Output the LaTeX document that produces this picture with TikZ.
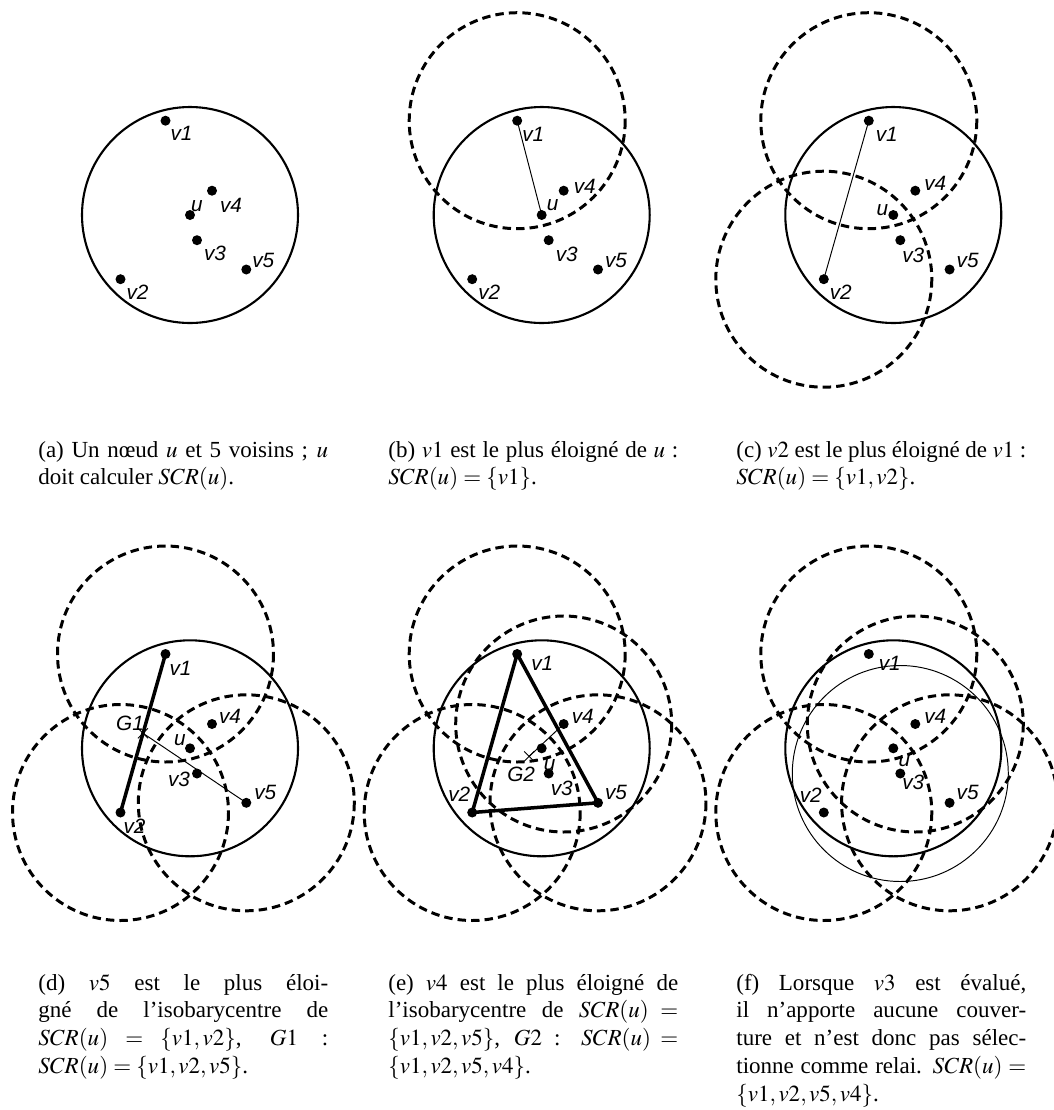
\documentclass[tikz,border=0pt]{standalone}
\usepackage{mathptmx}
\usepackage{fontspec}
\setmainfont{Liberation Serif}
\newfontfamily\lblfont{Liberation Sans}
\usetikzlibrary{calc}

\tikzset{
  reach/.style={line width=1.2pt},
  cover/.style={line width=1.7pt, dash pattern=on 4.8pt off 2.9pt},
  link/.style={line width=0.55pt},
  chosen/.style={line width=2pt},
  lbl/.style={inner sep=0pt, font=\lblfont\itshape\fontsize{11.8pt}{13pt}\selectfont},
  capt/.style={anchor=base west, inner sep=0pt, text width=165pt, align=justify,
    font=\fontsize{13.1pt}{15.8pt}\selectfont}
}

\begin{document}
\begin{tikzpicture}[x=0.02cm, y=-0.02cm]
  \useasboundingbox (0,0) rectangle (1054,1110);

  % the same node u and its five neighbours in every panel
  \foreach \p/\ux/\uy in {a/190/215, b/541.7/215, c/893.3/215,
                          d/190/748.3, e/541.7/748.3, f/893.3/748.3}{
    \coordinate (\p-u) at (\ux,\uy);
    \coordinate (\p-v1) at ([shift={(-24.5,-94.3)}]\p-u);
    \coordinate (\p-v2) at ([shift={(-69.5,64.2)}]\p-u);
    \coordinate (\p-v3) at ([shift={(7,25.2)}]\p-u);
    \coordinate (\p-v4) at ([shift={(22,-24.3)}]\p-u);
    \coordinate (\p-v5) at ([shift={(56.3,54.5)}]\p-u);
    \draw[reach] (\p-u) circle (108);
  }

  % (b)
  \draw[cover] (b-v1) circle (108);
  \draw[link] (b-u) -- (b-v1);

  % (c)
  \draw[cover] (c-v1) circle (108) (c-v2) circle (108);
  \draw[link] (c-v1) -- (c-v2);

  % (d)
  \coordinate (d-G1) at ($(d-v1)!0.5!(d-v2)$);
  \draw[cover] (d-v1) circle (108) (d-v2) circle (108) (d-v5) circle (108);
  \draw[chosen] (d-v1) -- (d-v2);
  \draw[link] (d-G1) -- (d-v5);
  \draw[link] (d-G1) +(-5,-5) -- +(5,5) +(-5,5) -- +(5,-5);
  \node[lbl] (d-G1-l) at ([shift={(-13,-10)}]d-G1) {G1};

  % (e)
  \coordinate (e-G2) at (barycentric cs:e-v1=1,e-v2=1,e-v5=1);
  \draw[cover] (e-v1) circle (108) (e-v2) circle (108) (e-v5) circle (108)
    (e-v4) circle (108);
  \draw[chosen] (e-v1) -- (e-v2) -- (e-v5) -- cycle;
  \draw[link] (e-G2) -- (e-v4);
  \draw[link] (e-G2) +(-5,-5) -- +(5,5) +(-5,5) -- +(5,-5);
  \node[lbl] (e-G2-l) at ([shift={(-8,18)}]e-G2) {G2};

  % (f)
  \draw[cover] (f-v1) circle (108) (f-v2) circle (108) (f-v5) circle (108)
    (f-v4) circle (108);
  \draw[link] (f-v3) circle (108);

  % dots and their labels
  \foreach \p in {a,b,c,d,e,f}
    \foreach \n in {u,v1,v2,v3,v4,v5}
      \fill (\p-\n) circle (5);
  \foreach \p/\n/\dx/\dy in {
      a/v1/16/13, a/v2/17/13, a/v3/18/13, a/v4/19/15, a/v5/17/-9, a/u/7/-9,
      b/v1/16/14, b/v2/17/13, b/v3/18/14, b/v4/21/-4, b/v5/18/-9, b/u/11/-10,
      c/v1/18/14, c/v2/17/13, c/v3/13/15, c/v4/20/-7, c/v5/18/-9, c/u/-11/-5,
      d/v1/15/14, d/v2/14/14, d/v3/-18/6, d/v4/18/-8, d/v5/19/-10, d/u/-10/-8,
      e/v1/25/9, e/v2/-13/-18, e/v3/13/15, e/v4/19/-8, e/v5/18/-10, e/u/8/17,
      f/v1/21/9, f/v2/-13/-17, f/v3/13/9, f/v4/20/-8, f/v5/18/-10, f/u/11/13}
    \node[lbl] (\p-\n-l) at ([shift={(\dx,\dy)}]\p-\n) {\n};

  % captions
  \node[capt] (cap-a) at (38,457)
    {(a) Un nœud $u$ et 5 voisins~; $u$\linebreak doit calculer $SCR(u)$.};
  \node[capt] (cap-b) at (388,457)
    {(b) $v1$ est le plus éloigné de $u$~:\linebreak $SCR(u)=\{v1\}$.};
  \node[capt] (cap-c) at (736,457)
    {(c) $v2$ est le plus éloigné de $v1$~:\linebreak $SCR(u)=\{v1,v2\}$.};
  \node[capt] (cap-d) at (38,990)
    {(d) $v5$ est le plus éloi-\linebreak gné de l'isobarycentre de\linebreak
     $SCR(u)=\{v1,v2\}$, $G1$ :\linebreak $SCR(u)=\{v1,v2,v5\}$.};
  \node[capt] (cap-e) at (388,990)
    {(e) $v4$ est le plus éloigné de\linebreak l'isobarycentre de $SCR(u)=$\linebreak
     $\{v1,v2,v5\}$, $G2$ : $SCR(u)=$\linebreak $\{v1,v2,v5,v4\}$.};
  \node[capt] (cap-f) at (736,990)
    {(f) Lorsque $v3$ est évalué,\linebreak il n'apporte aucune couver-\linebreak
     ture et n'est donc pas sélec-\linebreak tionne comme relai. $SCR(u)=$\linebreak
     $\{v1,v2,v5,v4\}$.};
\end{tikzpicture}
\end{document}
